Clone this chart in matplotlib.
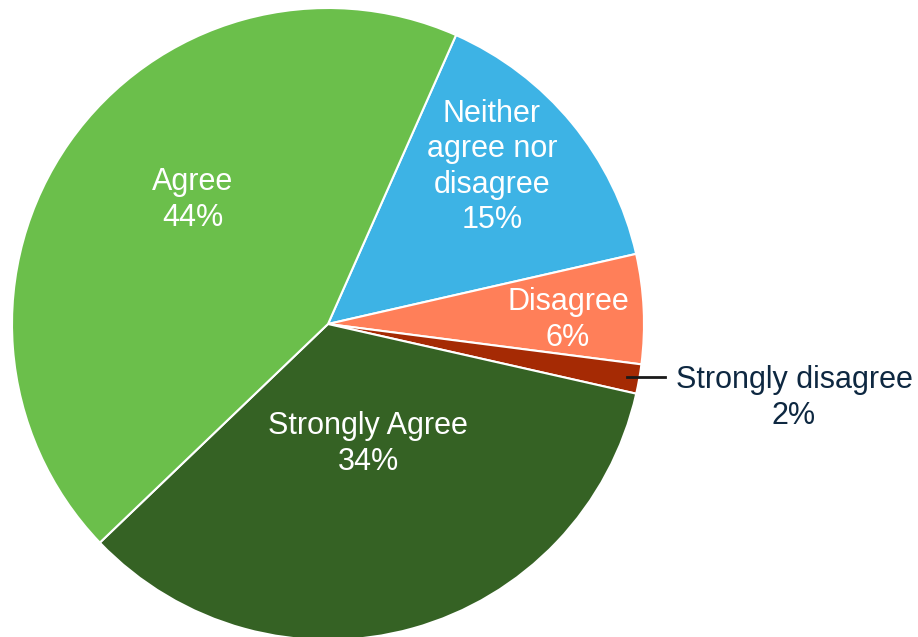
import matplotlib
matplotlib.use("Agg")
import matplotlib.pyplot as plt
import numpy as np

labels = ["Neither\nagree nor\ndisagree", "Disagree", "Strongly disagree", "Strongly Agree", "Agree"]
values = [14.8, 5.6, 1.5, 34.3, 43.8]
pct_text = ["15%", "6%", "2%", "34%", "44%"]
colors = ["#3DB3E5", "#FF7F59", "#A52A04", "#356224", "#6BBF4B"]

plt.rcParams['font.family'] = ['Liberation Sans', 'DejaVu Sans']

fig = plt.figure(figsize=(9.18, 6.37), dpi=100)
ax = fig.add_axes([0, 0, 1, 1])
cx, cy, R = 328, 313, 316
wedges, _ = ax.pie(values, colors=colors, startangle=66.1, counterclock=False,
                   center=(cx, cy), radius=R,
                   wedgeprops=dict(edgecolor="white", linewidth=1.5))
ax.set_xlim(0, 918)
ax.set_ylim(0, 637)
ax.set_aspect('equal')
ax.axis('off')

# label layout (pixel positions of label centres)
label_pos = [(492, 470), (568, 317), (794, 239), (368, 193), (193, 437)]
text_col = ["white", "white", "#0E2841", "white", "white"]
fs = 22
for lab, pt, (x, y), tc in zip(labels, pct_text, label_pos, text_col):
    ax.text(x, y, lab + "\n" + pt, ha="center", va="center", color=tc,
            fontsize=fs, linespacing=1.22)

# leader line for small slice
w = wedges[2]
th = np.deg2rad((w.theta1 + w.theta2) / 2)
x0 = cx + 0.96 * R * np.cos(th)
y0 = cy + 0.96 * R * np.sin(th)
ax.plot([x0, 665], [y0, y0], color="#1A1A1A", lw=2)

fig.savefig("out.png", dpi=100)
